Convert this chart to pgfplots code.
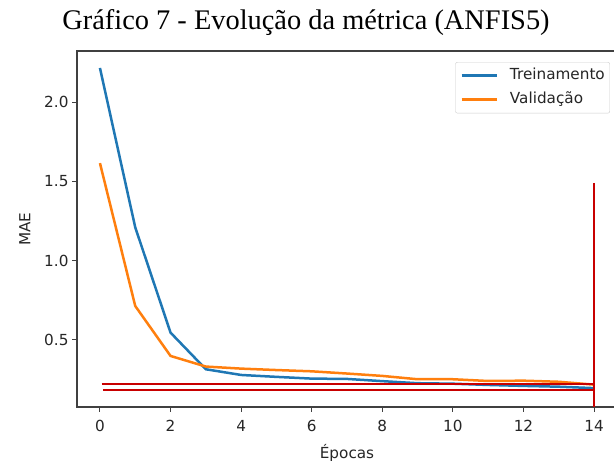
\documentclass[border=0pt]{standalone}
\usepackage{fontspec}
\setmainfont{DejaVu Sans}
\newfontfamily\titlefont{Liberation Serif}
\usepackage{pgfplots}
\pgfplotsset{compat=1.18}
\definecolor{mblue}{HTML}{1F77B4}
\definecolor{morange}{HTML}{FF7F0E}
\definecolor{mred}{HTML}{C80000}
\begin{document}
\begin{tikzpicture}[x=1bp,y=1bp]
\useasboundingbox (0,0) rectangle (614,461);
\clip (0,0) rectangle (614,461);
\node[font=\titlefont\fontsize{28.5}{32}\selectfont] at (306,438) {Gráfico 7 - Evolução da métrica (ANFIS5)};
\begin{pgfinterruptboundingbox}
\begin{axis}[at={(77bp,54bp)}, anchor=south west, scale only axis,
 width=540bp, height=356bp,
 xmin=-0.65, xmax=14.65, ymin=0.077, ymax=2.322,
 xtick={0,2,...,14}, ytick={0.5,1.0,1.5,2.0},
 yticklabel style={/pgf/number format/.cd, fixed, fixed zerofill, precision=1},
 xticklabel style={yshift=-5bp},
 /pgf/number format/assume math mode=true,
 tick align=outside, tick pos=left, major tick length=5bp,
 tick style={black!75, line width=1bp},
 tick label style={font=\fontsize{15.3}{17}\selectfont, color=black!85},
 label style={font=\fontsize{15.3}{17}\selectfont, color=black!85},
 xlabel={Épocas}, ylabel={MAE},
 xlabel style={yshift=-5bp},
 ylabel style={yshift=7bp},
 axis line style={black!75, line width=1.2bp},
 legend style={at={(0.987,0.969)}, anchor=north east, draw=black!20, rounded corners=2bp,
   font=\fontsize{15.3}{18}\selectfont, text=black!85, inner sep=3bp,
   nodes={text height=12bp, text depth=5bp}, row sep=3bp},
 legend cell align=left,
 legend image code/.code={\path (-2bp,0bp) (45bp,0bp); \draw[#1] (0bp,0bp) -- (35bp,0bp);},
]
\addplot[mblue, line width=2.5bp] coordinates {
(0,2.215) (1,1.21) (2,0.546) (3,0.315) (4,0.279) (5,0.267) (6,0.256) (7,0.254) (8,0.24) (9,0.227) (10,0.224) (11,0.216) (12,0.21) (13,0.205) (14,0.196)};
\addlegendentry{Treinamento}
\addplot[morange, line width=2.5bp] coordinates {
(0,1.615) (1,0.714) (2,0.399) (3,0.332) (4,0.319) (5,0.31) (6,0.302) (7,0.288) (8,0.273) (9,0.252) (10,0.252) (11,0.241) (12,0.243) (13,0.236) (14,0.218)};
\addlegendentry{Validação}
\addplot[mred, line width=1.8bp, forget plot] coordinates {(0.05,0.222) (14,0.222)};
\addplot[mred, line width=1.8bp, forget plot] coordinates {(0.1,0.186) (14,0.186)};
\addplot[mred, line width=1.8bp, forget plot] coordinates {(14,1.49) (14,0.077)};
\end{axis}
\end{pgfinterruptboundingbox}
\end{tikzpicture}
\end{document}
